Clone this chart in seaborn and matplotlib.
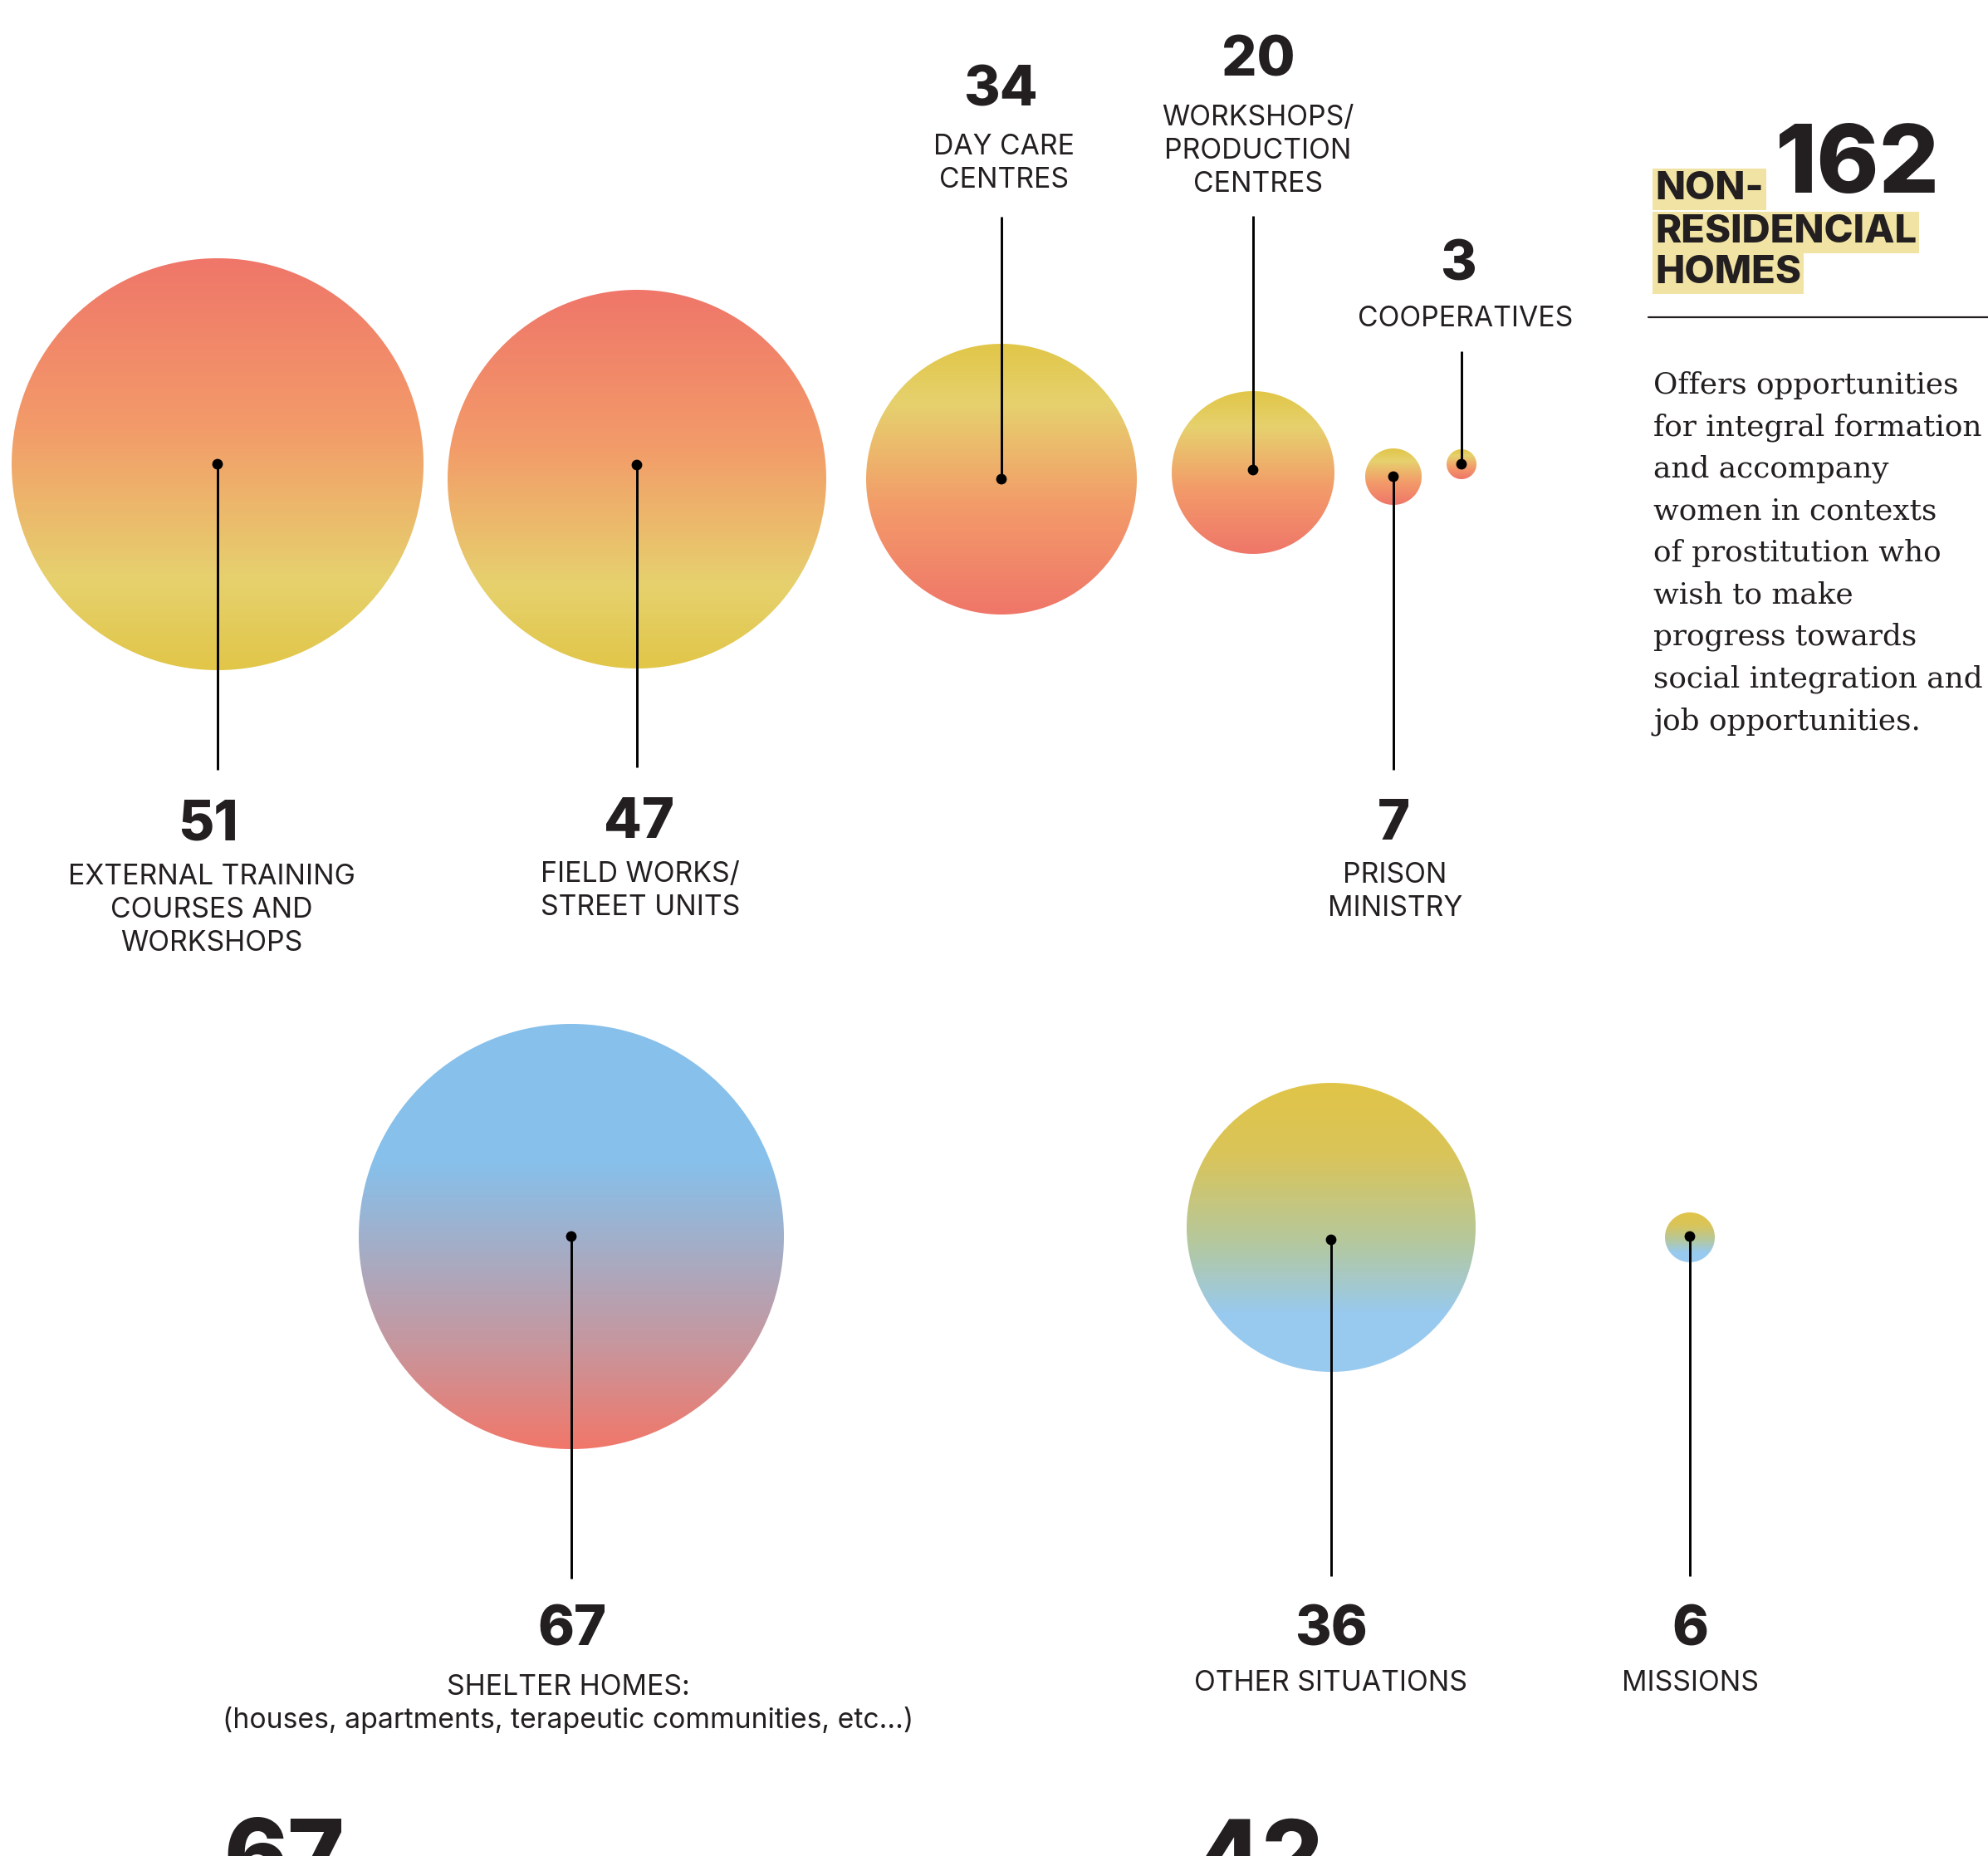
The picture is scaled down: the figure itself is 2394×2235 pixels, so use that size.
import numpy as np
import pandas as pd
import seaborn as sns
import matplotlib.pyplot as plt
from matplotlib.colors import LinearSegmentedColormap

W, H = 2394, 2235
INK = "#231F20"

categories = [
    "EXTERNAL TRAINING\nCOURSES AND\nWORKSHOPS",
    "FIELD WORKS/\nSTREET UNITS",
    "DAY CARE\nCENTRES",
    "WORKSHOPS/\nPRODUCTION\nCENTRES",
    "PRISON\nMINISTRY",
    "COOPERATIVES",
    "SHELTER HOMES:\n(houses, apartments, terapeutic communities, etc...)",
    "OTHER SITUATIONS",
    "MISSIONS",
]
values = [51, 47, 34, 20, 7, 3, 67, 36, 6]
gradient = ["warm_down", "warm_down", "warm_up", "warm_up", "warm_up", "warm_up",
            "blue_red", "yellow_blue", "yellow_blue"]
total_value = 162
total_title = ["NON-", "RESIDENCIAL", "HOMES"]
total_text = ["Offers opportunities", "for integral formation", "and accompany",
              "women in contexts", "of prostitution who", "wish to make",
              "progress towards", "social integration and", "job opportunities."]
next_values = [67, 42]

# ---- layout (pixels) ----
cx = [262, 767, 1206, 1509, 1678, 1760, 688, 1603, 2035]
cy = [559, 577, 577, 569, 574, 559, 1489, 1478, 1490]
rad = [248, 228, 163, 98, 34, 18, 256, 174, 30]
dot_y = [559, 560, 577, 566, 574, 559, 1489, 1493, 1489]
lead = [(559, 927), (560, 924), (261, 577), (260, 566), (574, 927), (423, 559),
        (1489, 1901), (1493, 1898), (1489, 1898)]
num_xy = [(250, 1011), (770, 1009), (1205, 128), (1515, 92), (1678, 1011), (1756, 337),
          (689, 1982), (1603, 1982), (2035, 1982)]
lab_xy = [(255, 1065), (771, 1062), (1209, 186), (1515, 151), (1680, 1063), (1765, 393),
          (684, 2041), (1602, 2036), (2035, 2036)]
next_x = [342, 1517]

cmaps = {
    "warm_down": [(0, "#EF7669"), (0.41, "#F39B69"), (0.78, "#E6D16E"), (1, "#E1C648")],
    "warm_up": [(0, "#E1C648"), (0.22, "#E6D16E"), (0.6, "#F39B69"), (1, "#EF7669")],
    "blue_red": [(0, "#87C0EA"), (0.33, "#87C0EA"), (0.52, "#A3AEC8"), (0.75, "#C6979F"), (1, "#F1776A")],
    "yellow_blue": [(0, "#E1C548"), (0.25, "#D9C45A"), (0.55, "#B5C89D"), (0.8, "#98CAEF"), (1, "#98CAEF")],
}
cmaps = {k: LinearSegmentedColormap.from_list(k, v) for k, v in cmaps.items()}

sns.set_theme(style="white")
plt.rcParams["font.family"] = ["Inter", "DejaVu Sans"]

fig = plt.figure(figsize=(W / 100, H / 100), dpi=100)
ax = fig.add_axes([0, 0, 1, 1])


def disc(x, y, r, cmap):
    n = int(2 * r) + 4
    half = n / 2
    yy, xx = np.mgrid[0:n, 0:n] + 0.5
    d = np.hypot(xx - half, yy - half)
    rgba = cmap(np.clip((yy - half + r) / (2 * r), 0, 1))
    rgba[..., 3] = np.clip(r - d + 0.5, 0, 1)
    ax.imshow(rgba, extent=[x - half, x + half, y + half, y - half],
              interpolation="bilinear", zorder=1)


for i, v in enumerate(values):
    disc(cx[i], cy[i], rad[i], cmaps[gradient[i]])
    ax.plot([cx[i], cx[i]], lead[i], color="black", lw=2.1, zorder=2, solid_capstyle="butt")
    ax.text(num_xy[i][0], num_xy[i][1], str(v), ha="center", va="baseline",
            fontsize=48, fontweight="heavy", color=INK)
    for j, line in enumerate(categories[i].split("\n")):
        ax.text(lab_xy[i][0], lab_xy[i][1] + 40 * j, line, ha="center", va="baseline",
                fontsize=24.3, color=INK)

dots = pd.DataFrame({"x": cx, "y": dot_y})
sns.scatterplot(data=dots, x="x", y="y", color="black", s=85, edgecolor="none",
                zorder=3, ax=ax, legend=False)

# summary block on the right
ax.text(2237, 232, str(total_value), ha="center", va="baseline", fontsize=82,
        fontweight="heavy", color=INK)
for j, (line, yb) in enumerate(zip(total_title, [240, 292, 341])):
    ax.text(1993, yb, line, ha="left", va="baseline", fontsize=34, fontweight="heavy",
            color=INK, bbox=dict(boxstyle="square,pad=0.07", fc="#F1E3A3", ec="none"))
ax.plot([1985, W], [382, 382], color=INK, lw=1.6)
for j, line in enumerate(total_text):
    ax.text(1991, 474 + 50.5 * j, line, ha="left", va="baseline", fontsize=25.8,
            family="DejaVu Serif", color=INK)

# next section totals, cut by the page edge as in the source page
for x, v in zip(next_x, next_values):
    ax.text(x, 2275, str(v), ha="center", va="baseline", fontsize=84,
            fontweight="heavy", color=INK)

ax.set_xlim(0, W)
ax.set_ylim(H, 0)
ax.set_aspect("auto")
ax.axis("off")
fig.savefig("out.png", dpi=100, facecolor="white")
